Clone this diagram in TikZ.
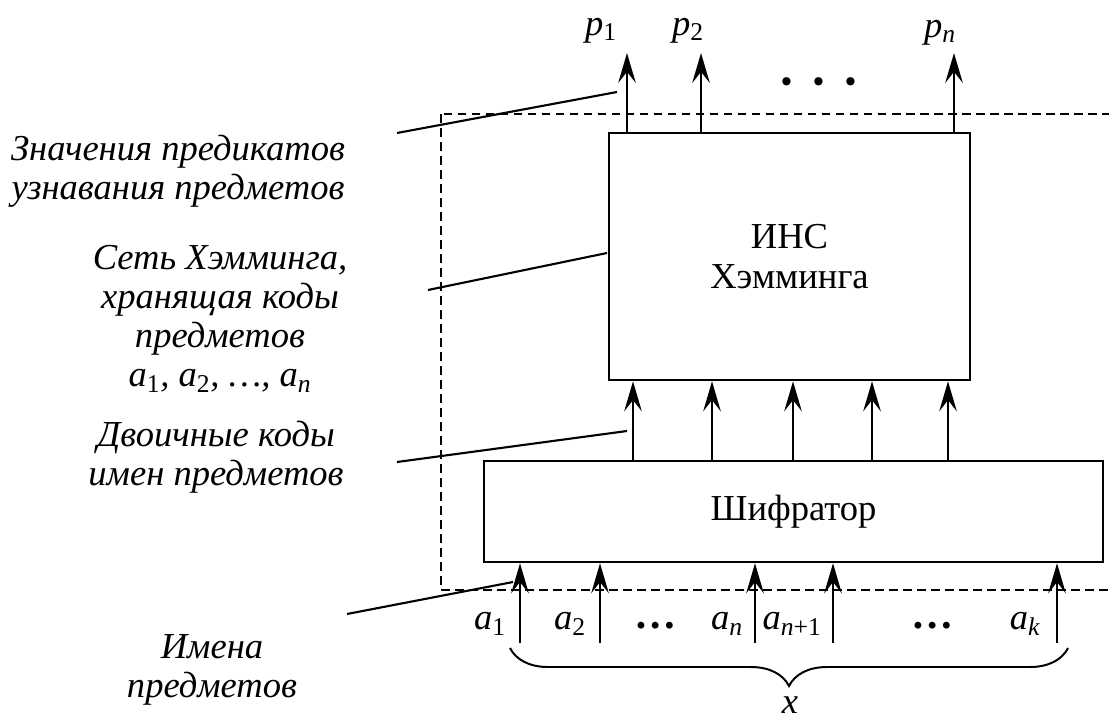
\documentclass[tikz,border=0pt]{standalone}
\usepackage{fontspec}
\setmainfont{Liberation Serif}
\usetikzlibrary{arrows.meta,decorations.pathreplacing}
\newcommand{\vsub}[2]{{\itshape #1}\textsubscript{\upshape #2}}

\begin{document}
\begin{tikzpicture}[x=0.025cm,y=-0.025cm,font=\fontsize{26}{28}\selectfont,
  >={Stealth[length=7.5mm,width=4.4mm,inset=2.8mm]},
  blk/.style={draw,line width=1.8pt,inner sep=0pt,align=center},
  arr/.style={->,line width=1.6pt},
  lead/.style={line width=1.5pt},
  note/.style={font=\fontsize{26}{27.8}\selectfont\itshape,align=center}]
  \useasboundingbox (0,0) rectangle (1109,722);
  % frame round the recogniser
  \draw[line width=1.3pt,dash pattern=on 0.22cm off 0.13cm] (441,114) rectangle (1140,590);
  % the two blocks
  \node[blk,minimum width=9.025cm,minimum height=6.175cm] (ins) at (789.5,256.5) {ИНС\\Хэмминга};
  \node[blk,minimum width=15.475cm,minimum height=2.525cm] (enc) at (793.5,511.5) {Шифратор};
  % outputs p_i
  \node (p1) at (601,31) {\vsub{p}{1}};
  \node (p2) at (688,31) {\vsub{p}{2}};
  \node (pn) at (940,33) {\vsub{p}{\itshape n}};
  \foreach \x in {627,701,954}
    \draw[arr] (ins.north -| \x,0) -- (\x,53);
  \node (pdots) at (819,88) {\fontsize{36}{36}\selectfont\bfseries ·\hspace{0.38cm}·\hspace{0.38cm}·};
  % codes from the encoder
  \foreach \x in {633,712,793,872,948}
    \draw[arr] (enc.north -| \x,0) -- (ins.south -| \x,0);
  % inputs a_i
  \foreach \x in {520,600,755,833,1057}
    \draw[arr] (\x,643) -- (enc.south -| \x,0);
  \node (a1) at (490,624) {\vsub{a}{1}};
  \node (a2) at (570,624) {\vsub{a}{2}};
  \node (adots1) at (656,626) {\fontsize{30}{30}\selectfont\bfseries …};
  \node (an) at (727,624) {\vsub{a}{\itshape n}};
  \node (an1) at (792,624) {\vsub{a}{\itshape n\upshape +1}};
  \node (adots2) at (933,626) {\fontsize{30}{30}\selectfont\bfseries …};
  \node (ak) at (1025,624) {\vsub{a}{\itshape k}};
  \draw[line width=1.4pt,decorate,decoration={brace,mirror,amplitude=0.95cm}] (510,648) -- (1068,648);
  \node (xin) at (790,705) {\textit{x}};
  % left notes
  \node[note] (lbl1) at (178,171) {Значения предикатов\\узнавания предметов};
  \node[note] (lbl2) at (220,319) {Сеть Хэмминга,\\хранящая коды\\предметов\\\vsub{a}{1}, \vsub{a}{2}, …, \vsub{a}{\itshape n}};
  \node[note] (lbl3) at (216,457) {Двоичные коды\\имен предметов};
  \node[note] (lbl4) at (212,670) {Имена\\предметов};
  \coordinate (t1) at (617,92);
  \coordinate (t2) at (607,253);
  \coordinate (t3) at (627,431);
  \coordinate (t4) at (513,582);
  \draw[lead] (397,133) -- (t1);
  \draw[lead] (428,290) -- (t2);
  \draw[lead] (397,462) -- (t3);
  \draw[lead] (347,614) -- (t4);
\end{tikzpicture}
\end{document}
